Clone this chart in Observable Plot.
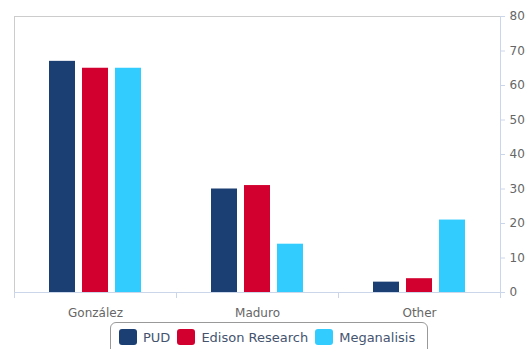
<!DOCTYPE html>
<html>
<head>
<meta charset="utf-8">
<script src="https://cdn.jsdelivr.net/npm/d3@7"></script>
<script src="https://cdn.jsdelivr.net/npm/@observablehq/plot@0.6"></script>
<style>
  html, body { margin: 0; padding: 0; background: #fff; }
  #chart { width: 528px; }
  #chart svg { display: block; }
  #key {
    margin: 2px 0 0 110px;
    display: flex; align-items: center;
    box-sizing: border-box; height: 34px; width: 318px;
    padding: 0 0 4px 8px;
    border: 1px solid #999; border-radius: 6px;
    font-family: "DejaVu Sans", sans-serif; font-size: 13px; color: #44546f;
  }
  #key .item { display: flex; align-items: center; margin-right: 7px; }
  #key .sw { width: 18px; height: 16px; border-radius: 3px; margin-right: 6px; }
</style>
</head>
<body>
<div id="chart"></div>
<div id="key"></div>
<script>
// Candidates on the x axis, the three sources as grouped bars
const categories = ["González", "Maduro", "Other"];
const sources = ["PUD", "Edison Research", "Meganalisis"];
const pudValues = [67, 30, 3];
const edisonValues = [65, 31, 4];
const meganalisisValues = [65, 14, 21];
const sourceColors = ["#1b3f73", "#d1002f", "#33ccff"];
const yTicks = [0, 10, 20, 30, 40, 50, 60, 70, 80];

const seriesValues = [pudValues, edisonValues, meganalisisValues];
const rows = categories.flatMap((category, i) =>
  sources.map((source, j) => ({category, source, value: seriesValues[j][i]}))
);

const chart = Plot.plot({
  width: 528,
  height: 320,
  marginTop: 16,
  marginLeft: 14,
  marginRight: 28,
  marginBottom: 28,
  style: {fontFamily: "DejaVu Sans, sans-serif", fontSize: "12px", background: "white"},
  fx: {domain: categories, padding: 0, label: null},
  x: {domain: sources, paddingInner: 0.227, paddingOuter: 1.065, axis: null},
  y: {domain: [0, 80], label: null},
  color: {domain: sources, range: sourceColors},
  marks: [
    Plot.ruleY([80], {stroke: "#cccccc"}),
    Plot.barY(rows, {fx: "category", x: "source", y: "value", fill: "source"}),
    Plot.ruleY([0], {stroke: "#ccd6eb"}),
    Plot.axisY(yTicks, {anchor: "right", tickSize: 4, tickPadding: 5, stroke: "#ccd6eb", fill: "#666", label: null}),
    Plot.axisFx({anchor: "bottom", tickSize: 0, tickPadding: 16, fill: "#666", label: null})
  ]
});

// Plot borders and the tick marks between candidate groups
const fx = chart.scale("fx");
const y = chart.scale("y");
const [xLeft, xRight] = fx.range;
const yBottom = y.apply(0), yTop = y.apply(80);
const svg = d3.select(chart);
const g = svg.append("g").attr("fill", "none").attr("shape-rendering", "crispEdges");
g.append("line").attr("x1", xLeft + 0.5).attr("x2", xLeft + 0.5).attr("y1", yTop).attr("y2", yBottom).attr("stroke", "#cccccc");
g.append("line").attr("x1", xRight).attr("x2", xRight).attr("y1", yTop).attr("y2", yBottom).attr("stroke", "#ccd6eb");
const bounds = [xLeft, ...categories.slice(1).map((c) => fx.apply(c)), xRight];
g.selectAll(".bt").data(bounds).join("line")
  .attr("x1", (d) => d).attr("x2", (d) => d)
  .attr("y1", yBottom).attr("y2", yBottom + 6)
  .attr("stroke", "#ccd6eb");

document.getElementById("chart").append(chart);

// Legend box under the chart
const key = document.getElementById("key");
sources.forEach((source, i) => {
  const item = document.createElement("div");
  item.className = "item";
  const sw = document.createElement("div");
  sw.className = "sw";
  sw.style.background = sourceColors[i];
  const label = document.createElement("span");
  label.textContent = source;
  item.append(sw, label);
  key.append(item);
});
</script>
</body>
</html>
